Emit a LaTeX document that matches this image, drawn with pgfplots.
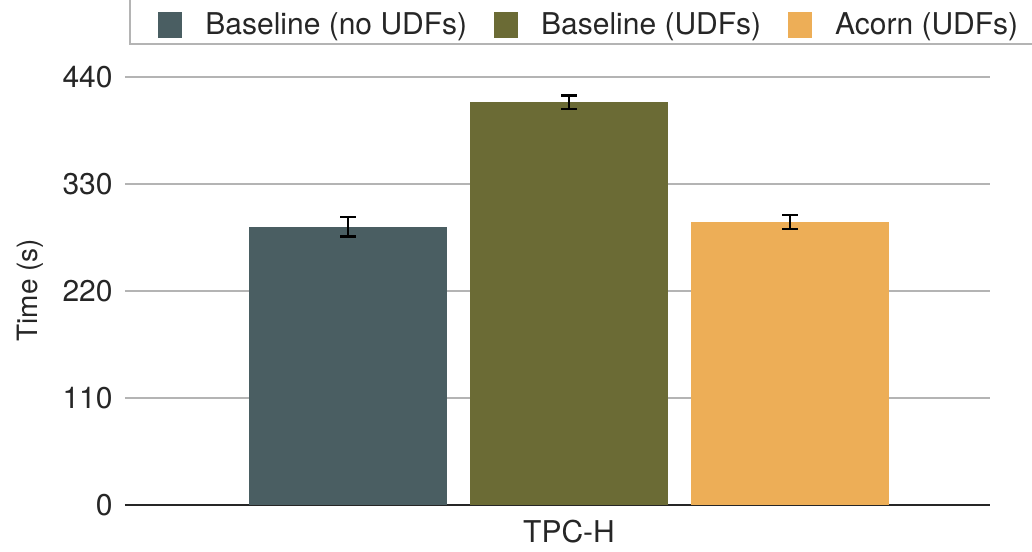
\documentclass[border=0pt]{standalone}
\usepackage{pgfplots}
\pgfplotsset{compat=1.18}
\usepackage{fontspec}
\setmainfont{TeX Gyre Heros}
\definecolor{cA}{HTML}{4A5E62}
\definecolor{cB}{HTML}{6B6B35}
\definecolor{cC}{HTML}{EDAE57}
\definecolor{gridc}{HTML}{B4B4B4}
\pgfplotsset{
  myerr/.style={error bars/.cd, y dir=both, y explicit,
    error bar style={line width=1.1pt, black},
    error mark options={rotate=90, mark size=3.8pt, line width=1.1pt, black}}
}
\begin{document}
\begin{tikzpicture}
\begin{axis}[
  scale only axis, width=432.5pt, height=214pt,
  xmin=-222, xmax=210.5, ymin=0, ymax=440,
  ybar=11.5pt, bar width=99pt,
  axis lines*=left,
  y axis line style={draw=none},
  x axis line style={draw=black!85, line width=1pt},
  tick style={draw=none},
  xtick={0}, xticklabels={TPC-H},
  ytick={0,110,220,330,440},
  /pgf/number format/assume math mode=true,
  ymajorgrids, grid style={gridc, line width=1pt},
  tick label style={font=\fontsize{15}{18}\selectfont, text=black!85},
  yticklabel style={inner sep=0pt, anchor=east, xshift=-6pt},
  xticklabel style={inner sep=0pt, anchor=north, yshift=-3pt},
  ylabel={Time (s)},
  ylabel style={at={(axis description cs:-0.1098,0.502)}, anchor=center, rotate=0, font=\fontsize{14}{16}\selectfont, text=black!85},
  clip=false,
  legend columns=3,
  legend image code/.code={\fill[#1] (0pt,-6.5pt) rectangle (12pt,6.5pt);},
  legend style={draw=none, fill=none, at={(axis description cs:0.0382,1.1215)}, anchor=west,
    inner sep=0pt, nodes={inner sep=0pt, font=\fontsize{15}{18}\selectfont, text=black!85},
    /tikz/every odd column/.append style={column sep=11.5pt},
    /tikz/every even column/.append style={column sep=13.5pt}},
]
\addplot[fill=cA, draw=none, myerr] coordinates {(0,286) +- (0,10)};
\addplot[fill=cB, draw=none, myerr] coordinates {(0,414) +- (0,7)};
\addplot[fill=cC, draw=none, myerr] coordinates {(0,291) +- (0,7.5)};
\legend{Baseline (no UDFs), Baseline (UDFs), Acorn (UDFs)}
\end{axis}
\draw[gridc, line width=0.75pt] (2.5pt,262pt) -- (2.5pt,230.5pt) -- (460pt,230.5pt);
\pgfresetboundingbox
\path (-62.5pt,-23pt) rectangle (453.5pt,252.5pt);
\end{tikzpicture}
\end{document}
